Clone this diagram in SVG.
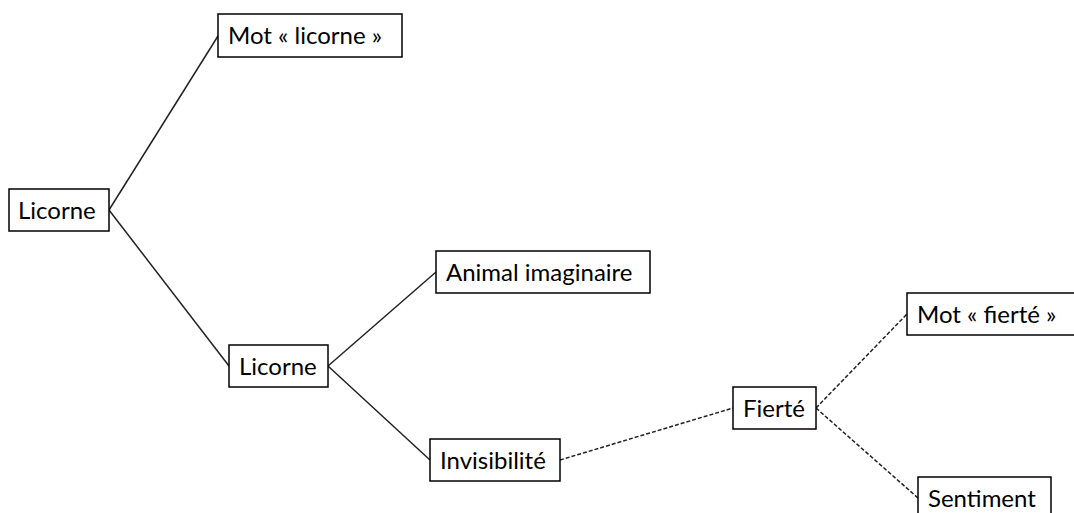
<svg xmlns="http://www.w3.org/2000/svg" width="1074" height="513" viewBox="0 0 1074 513">
<style>
.box{fill:#fff;stroke:#000;stroke-width:1.5}
.t{font-family:Lato,"Open Sans","Liberation Sans",sans-serif;font-size:24px;fill:#000}
.c{stroke:#222;stroke-width:1.5;fill:none}
.d{stroke:#222;stroke-width:1.5;fill:none;stroke-dasharray:4 2}
</style>
<rect width="1074" height="513" fill="#fff"/>
<g id="connectors">
<line class="c" x1="109" y1="210" x2="218" y2="36"/>
<line class="c" x1="109" y1="210" x2="229" y2="366"/>
<line class="c" x1="328" y1="366" x2="436" y2="272"/>
<line class="c" x1="328" y1="366" x2="430" y2="460"/>
<line class="d" x1="560" y1="460" x2="733" y2="408"/>
<line class="d" x1="816" y1="408" x2="907" y2="314"/>
<line class="d" x1="816" y1="408" x2="918" y2="498"/>
</g>
<g id="n1"><rect class="box" x="9" y="189" width="100" height="42"/><text class="t" x="18" y="219">Licorne</text></g>
<g id="n2"><rect class="box" x="218" y="14" width="184" height="43"/><text class="t" x="228" y="44">Mot « licorne »</text></g>
<g id="n3"><rect class="box" x="229" y="345" width="99" height="42"/><text class="t" x="239" y="375">Licorne</text></g>
<g id="n4"><rect class="box" x="436" y="251" width="214" height="42"/><text class="t" x="446" y="281">Animal imaginaire</text></g>
<g id="n5"><rect class="box" x="430" y="439" width="130" height="42"/><text class="t" x="440" y="469">Invisibilité</text></g>
<g id="n6"><rect class="box" x="733" y="387" width="83" height="42"/><text class="t" x="743" y="417">Fierté</text></g>
<g id="n7"><rect class="box" x="907" y="293" width="180" height="42"/><text class="t" x="917" y="323">Mot « fierté »</text></g>
<g id="n8"><rect class="box" x="918" y="477" width="133" height="42"/><text class="t" x="928" y="507">Sentiment</text></g>
</svg>
